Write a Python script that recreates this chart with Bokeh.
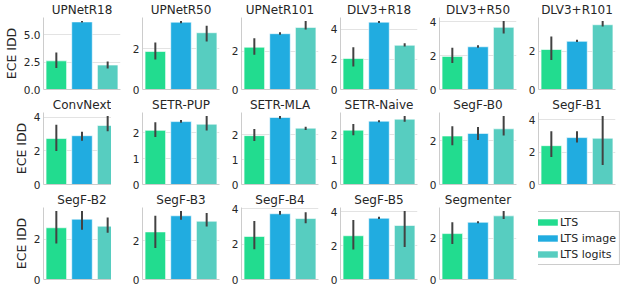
from bokeh.plotting import figure
from bokeh.layouts import gridplot
from bokeh.models import (Range1d, FixedTicker, Legend, LegendItem, ColumnDataSource,
                          NumeralTickFormatter)
from bokeh.embed import file_html
from bokeh.resources import INLINE

models = ["UPNetR18", "UPNetR50", "UPNetR101", "DLV3+R18", "DLV3+R50", "DLV3+R101",
          "ConvNext", "SETR-PUP", "SETR-MLA", "SETR-Naive", "SegF-B0", "SegF-B1",
          "SegF-B2", "SegF-B3", "SegF-B4", "SegF-B5", "Segmenter"]
methods = ["LTS", "LTS image", "LTS logits"]
colors = ["#22DC8F", "#21ACE0", "#57CDC0"]

lts_mean = [2.61, 1.87, 2.22, 2.07, 1.96, 2.10, 2.74, 2.10, 1.96, 2.18, 2.22, 2.40, 2.58, 2.45, 2.43, 2.59, 2.23]
lts_lo   = [1.97, 1.48, 1.83, 1.54, 1.57, 1.55, 2.00, 1.84, 1.74, 1.98, 1.80, 1.70, 1.80, 1.62, 1.71, 1.77, 1.73]
lts_hi   = [3.38, 2.31, 2.69, 2.82, 2.47, 2.78, 3.56, 2.41, 2.23, 2.43, 2.67, 3.30, 3.42, 3.28, 3.30, 3.52, 2.78]

img_mean = [6.16, 3.31, 2.93, 4.49, 2.53, 2.53, 2.91, 2.44, 2.69, 2.54, 2.34, 2.90, 3.01, 3.28, 3.71, 3.63, 2.78]
img_lo   = [6.10, 3.26, 2.87, 4.44, 2.47, 2.49, 2.61, 2.40, 2.64, 2.50, 2.04, 2.60, 2.48, 3.08, 3.65, 3.58, 2.73]
img_hi   = [6.25, 3.37, 3.00, 4.57, 2.62, 2.61, 3.14, 2.50, 2.75, 2.58, 2.63, 3.30, 3.42, 3.53, 3.87, 3.71, 2.83]

log_mean = [2.23, 2.79, 3.26, 2.95, 3.68, 3.40, 3.52, 2.34, 2.26, 2.62, 2.55, 2.86, 2.66, 3.00, 3.44, 3.20, 3.09]
log_lo   = [1.91, 2.36, 3.15, 2.86, 3.31, 3.31, 3.18, 2.09, 2.19, 2.52, 2.24, 1.20, 2.33, 2.73, 3.17, 1.92, 2.94]
log_hi   = [2.56, 3.13, 3.60, 3.08, 4.06, 3.60, 4.09, 2.66, 2.32, 2.75, 3.14, 4.24, 3.09, 3.42, 3.80, 4.06, 3.33]

ytick_step = [2.5, 2, 2, 2, 2, 2, 2, 1, 1, 1, 2, 2, 2, 2, 2, 2, 2]

FONT = "DejaVu Sans"
TXT = "#262626"
GRID = "#e3e3e3"
SPINE = "#cccccc"

figs = []
for i, name in enumerate(models):
    col = i % 6
    means = [lts_mean[i], img_mean[i], log_mean[i]]
    los = [lts_lo[i], img_lo[i], log_lo[i]]
    his = [lts_hi[i], img_hi[i], log_hi[i]]
    ymax = 1.05 * max(his + means)
    step = ytick_step[i]
    ticks = []
    t = 0.0
    while t <= ymax + 1e-9:
        ticks.append(t)
        t += step
    p = figure(frame_width=77, frame_height=72, output_backend="svg", toolbar_location=None,
               x_range=Range1d(-0.5, 2.5), y_range=Range1d(0, ymax),
               min_border_left=31 if col == 0 else 21, min_border_right=1,
               min_border_top=0, min_border_bottom=6, title=name)
    p.title.text_font = FONT
    p.title.text_font_size = "12px"
    p.title.text_font_style = "normal"
    p.title.text_color = TXT
    p.title.align = "center"
    p.title.standoff = 1
    p.outline_line_color = None
    p.xgrid.visible = False
    p.ygrid.grid_line_color = GRID
    p.ygrid.ticker = FixedTicker(ticks=ticks)
    p.yaxis.ticker = FixedTicker(ticks=ticks)
    if step != int(step):
        p.yaxis.formatter = NumeralTickFormatter(format="0.0")
    else:
        p.yaxis.formatter = NumeralTickFormatter(format="0")
    p.yaxis.major_tick_out = 0
    p.yaxis.major_tick_in = 0
    p.yaxis.minor_tick_line_color = None
    p.yaxis.axis_line_color = SPINE
    p.yaxis.major_label_text_font = FONT
    p.yaxis.major_label_text_font_size = "10.5px"
    p.yaxis.major_label_text_color = TXT
    p.yaxis.major_label_standoff = 3
    if col == 0:
        p.yaxis.axis_label = "ECE IDD"
        p.yaxis.axis_label_text_font = FONT
        p.yaxis.axis_label_text_font_size = "12.5px"
        p.yaxis.axis_label_text_font_style = "normal"
        p.yaxis.axis_label_text_color = TXT
        p.yaxis.axis_label_standoff = 2
    p.xaxis.ticker = FixedTicker(ticks=[])
    p.xaxis.major_label_standoff = 0
    p.xaxis.major_tick_line_color = None
    p.xaxis.minor_tick_line_color = None
    p.xaxis.axis_line_color = SPINE
    src = ColumnDataSource(dict(x=[0, 1, 2], top=means, lo=los, hi=his, color=colors))
    p.vbar(x="x", top="top", width=0.8, source=src, fill_color="color",
           line_color="white", line_width=1, line_alpha=0.6)
    p.segment(x0="x", y0="lo", x1="x", y1="hi", source=src, line_color="#424242", line_width=2)
    figs.append(p)

# legend panel (hidden proxy bars, only their legend entries are shown)
lg = figure(width=108, height=90, output_backend="svg", toolbar_location=None,
            x_axis_type=None, y_axis_type=None, min_border=0, title=None,
            x_range=Range1d(0, 1), y_range=Range1d(0, 1))
lg.outline_line_color = None
lg.xgrid.visible = False
lg.ygrid.visible = False
items = []
for k, (m, c) in enumerate(zip(methods, colors)):
    r = lg.vbar(x=[k], top=[[lts_mean, img_mean, log_mean][k][0]], width=0.8,
                fill_color=c, line_color=None, visible=False)
    items.append(LegendItem(label=m, renderers=[r]))
legend = Legend(items=items, location="top_right", glyph_width=26, glyph_height=8,
                label_standoff=0, label_text_font=FONT, label_text_font_size="11px",
                label_text_color=TXT, label_height=14, spacing=2, padding=3,
                border_line_color="#cccccc", border_line_alpha=1.0, margin=4,
                inactive_fill_alpha=0.0)
lg.add_layout(legend, "center")
figs.append(lg)

rows = [figs[0:6], figs[6:12], figs[12:18]]
grid = gridplot(rows, toolbar_location=None)

open("out.html", "w").write(file_html(grid, INLINE))
